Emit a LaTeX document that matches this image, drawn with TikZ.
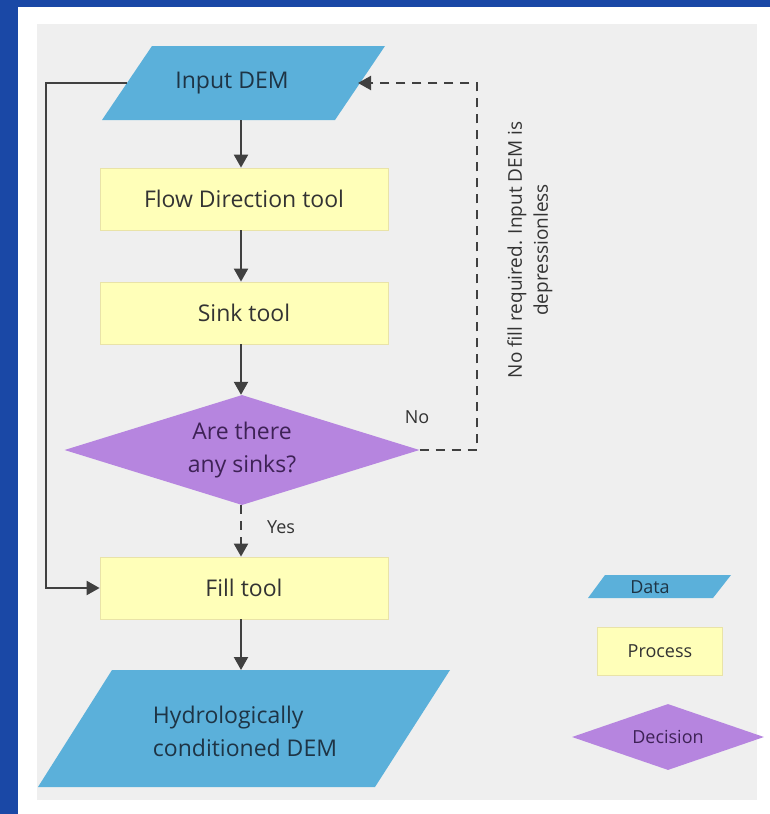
\documentclass[tikz,border=0pt]{standalone}
\usepackage{fontspec}
\setmainfont{Open Sans}
\usetikzlibrary{shapes.geometric,arrows.meta}

\definecolor{frameblue}{HTML}{1A48A6}
\definecolor{panelgray}{HTML}{EFEFEF}
\definecolor{datablue}{HTML}{5BB0DA}
\definecolor{procyellow}{HTML}{FFFFB9}
\definecolor{procedge}{HTML}{E9E3A8}
\definecolor{decpurple}{HTML}{B685DF}
\definecolor{inktext}{HTML}{333333}
\definecolor{datatext}{HTML}{1E3445}
\definecolor{dectext}{HTML}{3E2256}
\definecolor{linkgray}{HTML}{404040}

\tikzset{
  proc/.style={rectangle, fill=procyellow, draw=procedge, line width=0.8pt,
    text=inktext, font=\fontsize{23}{33}\selectfont},
  datatxt/.style={text=datatext, font=\fontsize{23}{33}\selectfont, align=left},
  dec/.style={diamond, fill=decpurple, inner sep=0pt, aspect=3.2,
    text=dectext, font=\fontsize{23}{33}\selectfont, align=center},
  lbl/.style={text=inktext, font=\fontsize{18}{24}\selectfont},
  legtxt/.style={font=\fontsize{18}{24}\selectfont},
  arr/.style={draw=linkgray, line width=2.2pt,
    -{Triangle[length=13pt,width=14pt]}},
  dasharr/.style={arr, dash pattern=on 9pt off 7pt},
  plain/.style={draw=linkgray, line width=2.2pt}
}

\begin{document}
\begin{tikzpicture}[x=1pt,y=-1pt]
% page frame and panel
\fill[frameblue] (0,0) rectangle (770,814);
\fill[white] (18,7) rectangle (770,814);
\fill[panelgray] (37,24) rectangle (757,800);
\useasboundingbox (0,0) rectangle (770,814);

% data shapes (parallelograms)
\fill[datablue] (152,46) -- (385,46) -- (335,120) -- (102,120) -- cycle;
\node[datatxt] (input) at (232,83) {Input DEM};
\coordinate (inbot) at (241,120);
\coordinate (inleft) at (127,83);
\coordinate (inright) at (358,83);

\fill[datablue] (112,670) -- (450,670) -- (375,787) -- (38,787) -- cycle;
\node[datatxt] (hydro) at (245,731) {Hydrologically\\conditioned DEM};
\coordinate (hytop) at (241,670);

% process steps
\node[proc, minimum width=288pt, minimum height=62pt] (flow) at (244,199) {Flow Direction tool};
\node[proc, minimum width=288pt, minimum height=62pt] (sink) at (244,313) {Sink tool};
\node[proc, minimum width=288pt, minimum height=62pt] (fill) at (244,588) {Fill tool};

% decision
\node[dec, minimum width=355pt, minimum height=110pt] (ask) at (242,450) {Are there\\any sinks?};

% main flow
\draw[arr] (inbot) -- (inbot |- flow.north);
\draw[arr] (inbot |- flow.south) -- (inbot |- sink.north);
\draw[arr] (inbot |- sink.south) -- (inbot |- ask.north);
\draw[dasharr] (inbot |- ask.south) -- (inbot |- fill.north);
\draw[arr] (inbot |- fill.south) -- (hytop);

% bypass into the fill step
\coordinate (leftrail) at (46,83);
\draw[arr] (inleft) -- (leftrail) |- (fill.west);

% no-sink loop back to the input
\coordinate (rightrail) at (477,450);
\draw[dasharr] (ask.east) -- (rightrail) |- (inright);

% labels
\node[lbl] (nolbl) at (417,417) {No};
\node[lbl] (yeslbl) at (281,527) {Yes};
\node[lbl, rotate=90, align=center, font=\fontsize{19}{26}\selectfont] (note) at (530,250)
  {No fill required. Input DEM is\\depressionless};

% legend
\fill[datablue] (605,575) -- (731,575) -- (713,598) -- (588,598) -- cycle;
\node[legtxt, text=datatext] (legdata) at (650,587) {Data};
\node[proc, legtxt, minimum width=125pt, minimum height=48pt] (legproc) at (660,651) {Process};
\node[dec, legtxt, minimum width=192pt, minimum height=66pt, aspect=3] (legdec) at (668,737) {Decision};
\end{tikzpicture}
\end{document}
